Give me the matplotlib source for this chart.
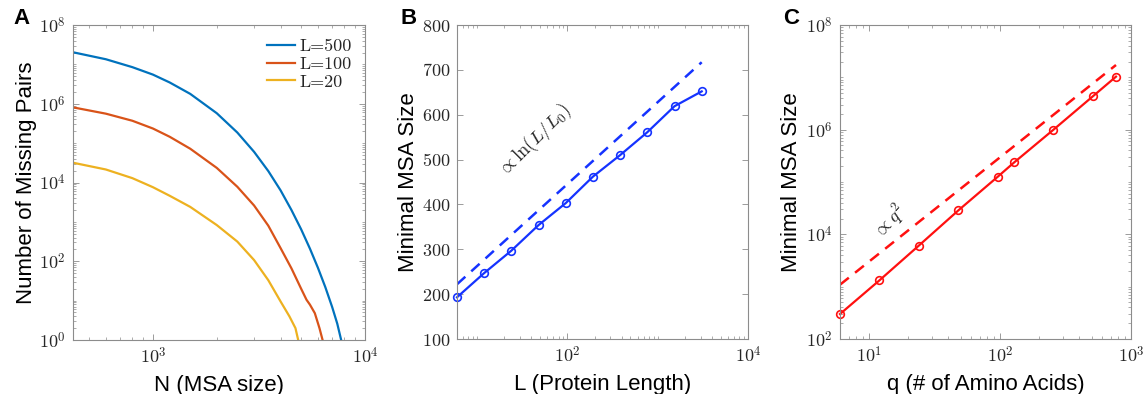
import numpy as np
import matplotlib
matplotlib.use("Agg")
import matplotlib.pyplot as plt
from matplotlib.ticker import FixedLocator, FuncFormatter, LogLocator, NullFormatter

# ---------------- data ----------------
# Panel A: number of missing pairs vs MSA size N
A_N_L500 = [420, 600, 800, 1000, 1200, 1500, 2000, 2500, 3000, 3500, 4000, 4500, 5000,
            5500, 6000, 6500, 7000, 7400, 7720]
A_L500 = [2.03e7, 1.35e7, 8.5e6, 5.5e6, 3.47e6, 1.78e6, 5.75e5, 1.86e5, 6.0e4, 1.95e4,
          6.3e3, 2.0e3, 646, 209, 68, 22, 6.9, 2.6, 1.0]
A_N_L100 = [420, 600, 800, 1000, 1200, 1500, 2000, 2500, 3000, 3500, 4000, 4500, 5000,
            5300, 5500, 5800, 6100, 6310]
A_L100 = [8.1e5, 5.6e5, 3.7e5, 2.35e5, 1.45e5, 7.2e4, 2.35e4, 7.8e3, 2.6e3, 800, 215, 66, 20,
          10.5, 7.9, 4.8, 2.0, 1.0]
A_N_L20 = [420, 600, 800, 1000, 1200, 1500, 2000, 2500, 3000, 3500, 4000, 4400, 4700, 4842]
A_L20 = [3.18e4, 2.14e4, 1.29e4, 7.6e3, 4.6e3, 2.4e3, 830, 316, 107, 33, 9.5, 4.0, 2.0, 1.0]
A_labels = ["L=500", "L=100", "L=20"]

# Panel B: minimal MSA size vs protein length L
B_L = [6, 12, 24, 48, 96, 192, 384, 768, 1536, 3072]
B_size = [193, 247, 297, 354, 403, 462, 510, 561, 619, 652]
B_fit_L = [6, 3072]
B_fit = [222, 717]

# Panel C: minimal MSA size vs number of amino acids q
C_q = [6, 12, 24, 48, 96, 128, 256, 512, 768]
C_size = [300, 1320, 6100, 28600, 1.26e5, 2.36e5, 1.0e6, 4.35e6, 1.03e7]
C_fit_q = [6, 768]
C_fit = [1090, 1.72e7]

# ---------------- style ----------------
plt.rcParams["mathtext.fontset"] = "cm"
plt.rcParams["font.family"] = ["Liberation Sans", "DejaVu Sans"]

W, H = 1144, 394
fig = plt.figure(figsize=(W / 100, H / 100), dpi=100)

def add_ax(left, right, top, bottom):
    return fig.add_axes([left / W, 1 - bottom / H, (right - left) / W, (bottom - top) / H])

axA = add_ax(73, 365, 25, 340)
axB = add_ax(457, 748, 25, 339)
axC = add_ax(840, 1131, 25, 339)

SPINE = "#8c8c8c"
TXT = "#262626"

def style(ax):
    for s in ax.spines.values():
        s.set_color(SPINE)
        s.set_linewidth(0.8)
    ax.tick_params(which="both", direction="in", top=True, right=True,
                   color=SPINE, labelcolor=TXT, labelsize=13)
    ax.tick_params(which="major", length=4, width=0.6, pad=5)
    ax.tick_params(which="minor", length=2.2, width=0.5)

def logfmt(v, pos):
    return r"$10^{%d}$" % int(round(np.log10(v)))

def intfmt(v, pos):
    return r"$%d$" % int(round(v))

minor_loc = lambda: LogLocator(base=10, subs=np.arange(1, 10), numticks=100)

# ---------------- Panel A ----------------
colsA = ["#0072BD", "#D95319", "#EDB120"]
axA.plot(A_N_L500, A_L500, color=colsA[0], lw=1.6, label=A_labels[0])
axA.plot(A_N_L100, A_L100, color=colsA[1], lw=1.6, label=A_labels[1])
axA.plot(A_N_L20, A_L20, color=colsA[2], lw=1.6, label=A_labels[2])
axA.set_xscale("log")
axA.set_yscale("log")
axA.set_xlim(420, 1e4)
axA.set_ylim(1, 1e8)
axA.xaxis.set_major_locator(FixedLocator([1e3, 1e4]))
axA.xaxis.set_major_formatter(FuncFormatter(logfmt))
axA.xaxis.set_minor_locator(minor_loc())
axA.xaxis.set_minor_formatter(NullFormatter())
axA.yaxis.set_major_locator(FixedLocator([1e0, 1e2, 1e4, 1e6, 1e8]))
axA.yaxis.set_major_formatter(FuncFormatter(logfmt))
axA.yaxis.set_minor_locator(minor_loc())
axA.yaxis.set_minor_formatter(NullFormatter())
style(axA)
leg = axA.legend(loc="upper right", frameon=False, prop={"family": "cmr10", "size": 13},
                 handlelength=1.6, handletextpad=0.2, labelspacing=0.12, borderaxespad=0.35)
for t in leg.get_texts():
    t.set_color(TXT)
axA.set_xlabel("N (MSA size)", fontsize=16)
axA.set_ylabel("Number of Missing Pairs", fontsize=16)

# ---------------- Panel B ----------------
blue = "#1533ff"
axB.plot(B_L, B_size, color=blue, lw=1.6, marker="o", ms=5.5, mfc="none", mew=1.2, clip_on=False)
axB.plot(B_fit_L, B_fit, color=blue, lw=1.8, ls=(0, (4.5, 3.2)))
axB.set_xscale("log")
axB.set_xlim(6, 1e4)
axB.set_ylim(100, 800)
axB.xaxis.set_major_locator(FixedLocator([1e2, 1e4]))
axB.xaxis.set_major_formatter(FuncFormatter(logfmt))
axB.xaxis.set_minor_locator(minor_loc())
axB.xaxis.set_minor_formatter(NullFormatter())
axB.yaxis.set_major_locator(FixedLocator(list(range(100, 801, 100))))
axB.yaxis.set_major_formatter(FuncFormatter(intfmt))
style(axB)
axB.text(43.5, 544, r"$\propto \ln(L/L_0)$", fontsize=13.5, rotation=45,
         rotation_mode="anchor", ha="center", va="center", color=TXT)
axB.set_xlabel("L (Protein Length)", fontsize=16)
axB.set_ylabel("Minimal MSA Size", fontsize=16)

# ---------------- Panel C ----------------
red = "#ff1010"
axC.plot(C_q, C_size, color=red, lw=1.6, marker="o", ms=5.5, mfc="none", mew=1.2, clip_on=False)
axC.plot(C_fit_q, C_fit, color=red, lw=1.8, ls=(0, (4.5, 3.2)))
axC.set_xscale("log")
axC.set_yscale("log")
axC.set_xlim(6, 1e3)
axC.set_ylim(1e2, 1e8)
axC.xaxis.set_major_locator(FixedLocator([1e1, 1e2, 1e3]))
axC.xaxis.set_major_formatter(FuncFormatter(logfmt))
axC.xaxis.set_minor_locator(minor_loc())
axC.xaxis.set_minor_formatter(NullFormatter())
axC.yaxis.set_major_locator(FixedLocator([1e2, 1e4, 1e6, 1e8]))
axC.yaxis.set_major_formatter(FuncFormatter(logfmt))
axC.yaxis.set_minor_locator(minor_loc())
axC.yaxis.set_minor_formatter(NullFormatter())
style(axC)
axC.text(14.4, 1.74e4, r"$\propto q^2$", fontsize=13.5, rotation=48,
         rotation_mode="anchor", ha="center", va="center", color=TXT)
axC.set_xlabel("q (# of Amino Acids)", fontsize=16)
axC.set_ylabel("Minimal MSA Size", fontsize=16)

# axis label positions
for ax, xl in ((axA, 37), (axB, 419), (axC, 802)):
    l, r = ax.get_position().x0 * W, ax.get_position().x1 * W
    ax.yaxis.set_label_coords((xl - l) / (r - l), 0.5)
    ax.xaxis.set_label_coords(0.5, -35 / 315)

# panel letters
for x, s in ((13, "A"), (400, "B"), (783, "C")):
    fig.text(x / W, 1 - 8 / H, s, fontsize=16, fontweight="bold", ha="left", va="top", color="black")

fig.savefig("out.png", dpi=100)
